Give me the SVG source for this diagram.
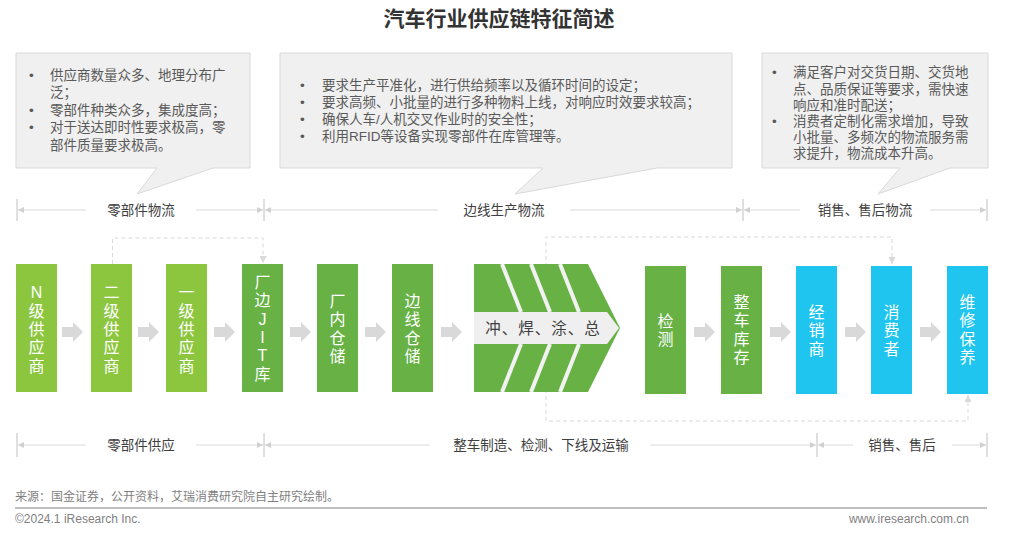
<svg xmlns="http://www.w3.org/2000/svg" width="1016" height="534" viewBox="0 0 1016 534">
<style>
.t{font-family:"Liberation Sans","Noto Sans CJK SC",sans-serif;}
.title{font-size:21px;font-weight:bold;fill:#333333;text-anchor:middle;dominant-baseline:central;}
.co{fill:#f0f0f0;stroke:#d9d9d9;stroke-width:1;}
.ct{font-size:13.5px;fill:#595959;dominant-baseline:central;}
.lg{fill:#8cc63f;}
.dg{fill:#67b145;}
.bl{fill:#1fc5ef;}
.nt{font-size:16px;fill:#ffffff;text-anchor:middle;dominant-baseline:central;}
.ga{fill:#d9d9d9;}
.dash{fill:none;stroke:#d9d9d9;stroke-width:1;stroke-dasharray:4 3;}
.br{stroke:#dcdcdc;stroke-width:1.2;fill:none;}
.tick{stroke:#c0c0c0;stroke-width:1;}
.bt{font-size:13.5px;fill:#404040;text-anchor:middle;dominant-baseline:central;}
.foot{font-size:12px;fill:#7f7f7f;dominant-baseline:central;}
.stripe{stroke:#f2f2f2;stroke-width:4;}
</style>
<defs>
<marker id="ah" viewBox="0 0 10 10" refX="10" refY="5" markerWidth="8" markerHeight="6" markerUnits="userSpaceOnUse" orient="auto-start-reverse">
<path d="M0,0 L10,5 L0,10 Z" fill="#d0d0d0"/>
</marker>
<marker id="dh" viewBox="0 0 10 10" refX="10" refY="5" markerWidth="7" markerHeight="7" markerUnits="userSpaceOnUse" orient="auto-start-reverse">
<path d="M0,0 L10,5 L0,10 Z" fill="#d9d9d9"/>
</marker>
</defs>

<text class="t title" x="499" y="18">汽车行业供应链特征简述</text>

<g id="callout-parts">
<path class="co" d="M16,53 H250 V168 H213 L137,194 L157,168 H16 Z"/>
<text class="t ct" x="29" y="75">•</text>
<text class="t ct" x="50" y="75">供应商数量众多、地理分布广</text>
<text class="t ct" x="50" y="92.5">泛；</text>
<text class="t ct" x="29" y="110">•</text>
<text class="t ct" x="50" y="110">零部件种类众多，集成度高；</text>
<text class="t ct" x="29" y="127.5">•</text>
<text class="t ct" x="50" y="127.5">对于送达即时性要求极高，零</text>
<text class="t ct" x="50" y="145">部件质量要求极高。</text>
</g>

<g id="callout-line">
<path class="co" d="M280,53 H732 V168 H657 L515,194 L543,168 H280 Z"/>
<text class="t ct" x="300" y="85">•</text>
<text class="t ct" x="322" y="85">要求生产平准化，进行供给频率以及循环时间的设定；</text>
<text class="t ct" x="300" y="102">•</text>
<text class="t ct" x="322" y="102">要求高频、小批量的进行多种物料上线，对响应时效要求较高；</text>
<text class="t ct" x="300" y="119">•</text>
<text class="t ct" x="322" y="119">确保人车/人机交叉作业时的安全性；</text>
<text class="t ct" x="300" y="136">•</text>
<text class="t ct" x="322" y="136">利用RFID等设备实现零部件在库管理等。</text>
</g>

<g id="callout-sales">
<path class="co" d="M762,53 H988 V168 H950 L878,194 L900,168 H762 Z"/>
<text class="t ct" x="772" y="72">•</text>
<text class="t ct" x="793" y="72">满足客户对交货日期、交货地</text>
<text class="t ct" x="793" y="89">点、品质保证等要求，需快速</text>
<text class="t ct" x="793" y="105">响应和准时配送；</text>
<text class="t ct" x="772" y="121">•</text>
<text class="t ct" x="793" y="121">消费者定制化需求增加，导致</text>
<text class="t ct" x="793" y="137">小批量、多频次的物流服务需</text>
<text class="t ct" x="793" y="153">求提升，物流成本升高。</text>
</g>

<g id="connectors">
<!-- top brackets -->
<line class="tick" x1="17" y1="199" x2="17" y2="221"/>
<line class="tick" x1="264" y1="199" x2="264" y2="221"/>
<line class="tick" x1="743" y1="199" x2="743" y2="221"/>
<line class="tick" x1="987" y1="199" x2="987" y2="221"/>
<path class="br" d="M86,210 H18" marker-end="url(#ah)"/>
<path class="br" d="M196,210 H263" marker-end="url(#ah)"/>
<path class="br" d="M438,210 H265" marker-end="url(#ah)"/>
<path class="br" d="M570,210 H742" marker-end="url(#ah)"/>
<path class="br" d="M800,210 H744" marker-end="url(#ah)"/>
<path class="br" d="M930,210 H986" marker-end="url(#ah)"/>
<!-- bottom brackets -->
<line class="tick" x1="17" y1="433" x2="17" y2="457"/>
<line class="tick" x1="264" y1="433" x2="264" y2="457"/>
<line class="tick" x1="817" y1="433" x2="817" y2="457"/>
<line class="tick" x1="987" y1="433" x2="987" y2="457"/>
<path class="br" d="M86,445 H18" marker-end="url(#ah)"/>
<path class="br" d="M196,445 H263" marker-end="url(#ah)"/>
<path class="br" d="M430,445 H265" marker-end="url(#ah)"/>
<path class="br" d="M650,445 H816" marker-end="url(#ah)"/>
<path class="br" d="M853,445 H818" marker-end="url(#ah)"/>
<path class="br" d="M952,445 H986" marker-end="url(#ah)"/>
<!-- dashed links -->
<path class="dash" d="M112.5,264 V238 H263 V263" marker-end="url(#dh)"/>
<path class="dash" d="M892,264 V237 H546 V421 H968 V395" marker-start="url(#dh)" marker-end="url(#dh)"/>
<!-- block arrows -->
<path class="ga" d="M62,327 h11 v-5 l10,10 l-10,10 v-5 h-11 Z"/>
<path class="ga" d="M138,327 h11 v-5 l10,10 l-10,10 v-5 h-11 Z"/>
<path class="ga" d="M214,327 h11 v-5 l10,10 l-10,10 v-5 h-11 Z"/>
<path class="ga" d="M290,327 h11 v-5 l10,10 l-10,10 v-5 h-11 Z"/>
<path class="ga" d="M365,327 h11 v-5 l10,10 l-10,10 v-5 h-11 Z"/>
<path class="ga" d="M441,327 h11 v-5 l10,10 l-10,10 v-5 h-11 Z"/>
<path class="ga" d="M694,327 h11 v-5 l10,10 l-10,10 v-5 h-11 Z"/>
<path class="ga" d="M770,327 h11 v-5 l10,10 l-10,10 v-5 h-11 Z"/>
<path class="ga" d="M845,327 h11 v-5 l10,10 l-10,10 v-5 h-11 Z"/>
<path class="ga" d="M920,327 h11 v-5 l10,10 l-10,10 v-5 h-11 Z"/>
</g>

<g id="labels">
<text class="t bt" x="141" y="210">零部件物流</text>
<text class="t bt" x="504" y="210">边线生产物流</text>
<text class="t bt" x="865" y="210">销售、售后物流</text>
<text class="t bt" x="141" y="445">零部件供应</text>
<text class="t bt" x="541" y="445">整车制造、检测、下线及运输</text>
<text class="t bt" x="902" y="445">销售、售后</text>
</g>

<g id="n-supplier">
<rect class="lg" x="16" y="264" width="41" height="128"/>
<text class="t nt" x="36.5"><tspan x="36.5" y="292.4">N</tspan><tspan x="36.5" y="310.7">级</tspan><tspan x="36.5" y="329">供</tspan><tspan x="36.5" y="347.3">应</tspan><tspan x="36.5" y="365.6">商</tspan></text>
</g>
<g id="tier2-supplier">
<rect class="lg" x="91" y="264" width="41" height="128"/>
<text class="t nt" x="111.5"><tspan x="111.5" y="292.4">二</tspan><tspan x="111.5" y="310.7">级</tspan><tspan x="111.5" y="329">供</tspan><tspan x="111.5" y="347.3">应</tspan><tspan x="111.5" y="365.6">商</tspan></text>
</g>
<g id="tier1-supplier">
<rect class="lg" x="166" y="264" width="41" height="128"/>
<text class="t nt" x="186.5"><tspan x="186.5" y="292.4">一</tspan><tspan x="186.5" y="310.7">级</tspan><tspan x="186.5" y="329">供</tspan><tspan x="186.5" y="347.3">应</tspan><tspan x="186.5" y="365.6">商</tspan></text>
</g>
<g id="jit">
<rect class="dg" x="242" y="264" width="41" height="128"/>
<text class="t nt" x="262.5"><tspan x="262.5" y="282">厂</tspan><tspan x="262.5" y="300.3">边</tspan><tspan x="262.5" y="318.6">J</tspan><tspan x="262.5" y="336.9">I</tspan><tspan x="262.5" y="355.2">T</tspan><tspan x="262.5" y="373.5">库</tspan></text>
</g>
<g id="plant-warehouse">
<rect class="dg" x="317" y="264" width="41" height="128"/>
<text class="t nt" x="337.5"><tspan x="337.5" y="301">厂</tspan><tspan x="337.5" y="319.3">内</tspan><tspan x="337.5" y="337.6">仓</tspan><tspan x="337.5" y="355.9">储</tspan></text>
</g>
<g id="line-warehouse">
<rect class="dg" x="392" y="264" width="41" height="128"/>
<text class="t nt" x="412.5"><tspan x="412.5" y="301">边</tspan><tspan x="412.5" y="319.3">线</tspan><tspan x="412.5" y="337.6">仓</tspan><tspan x="412.5" y="355.9">储</tspan></text>
</g>
<g id="process">
<polygon class="dg" points="474,264 588,264 620,328 588,392 474,392"/>
<line class="stripe" x1="502" y1="264" x2="521" y2="312"/>
<line class="stripe" x1="531" y1="264" x2="550" y2="312"/>
<line class="stripe" x1="560" y1="264" x2="579" y2="312"/>
<line class="stripe" x1="502" y1="392" x2="521" y2="344"/>
<line class="stripe" x1="531" y1="392" x2="550" y2="344"/>
<line class="stripe" x1="560" y1="392" x2="579" y2="344"/>
<polygon fill="#efefef" points="474,312 607,312 619,328 607,344 474,344"/>
<text class="t" x="543" y="328" font-size="15.5" fill="#404040" text-anchor="middle" dominant-baseline="central" letter-spacing="1">冲、焊、涂、总</text>
</g>
<g id="inspection">
<rect class="dg" x="645" y="266" width="41" height="128"/>
<text class="t nt" x="665.5"><tspan x="665.5" y="321">检</tspan><tspan x="665.5" y="339">测</tspan></text>
</g>
<g id="vehicle-stock">
<rect class="dg" x="721" y="266" width="41" height="128"/>
<text class="t nt" x="741.5"><tspan x="741.5" y="302">整</tspan><tspan x="741.5" y="320.3">车</tspan><tspan x="741.5" y="338.6">库</tspan><tspan x="741.5" y="356.9">存</tspan></text>
</g>
<g id="dealer">
<rect class="bl" x="796" y="266" width="41" height="128"/>
<text class="t nt" x="816.5"><tspan x="816.5" y="312">经</tspan><tspan x="816.5" y="330.3">销</tspan><tspan x="816.5" y="348.6">商</tspan></text>
</g>
<g id="consumer">
<rect class="bl" x="871" y="266" width="41" height="128"/>
<text class="t nt" x="891.5"><tspan x="891.5" y="312">消</tspan><tspan x="891.5" y="330.3">费</tspan><tspan x="891.5" y="348.6">者</tspan></text>
</g>
<g id="maintenance">
<rect class="bl" x="947" y="266" width="41" height="128"/>
<text class="t nt" x="967.5"><tspan x="967.5" y="302">维</tspan><tspan x="967.5" y="320.3">修</tspan><tspan x="967.5" y="338.6">保</tspan><tspan x="967.5" y="356.9">养</tspan></text>
</g>

<g id="footer">
<text class="t foot" x="15" y="497">来源：国金证券，公开资料，艾瑞消费研究院自主研究绘制。</text>
<line x1="15" y1="508" x2="987" y2="508" stroke="#808080" stroke-width="1"/>
<text class="t foot" x="15" y="519">©2024.1 iResearch Inc.</text>
<text class="t foot" x="969" y="519" text-anchor="end">www.iresearch.com.cn</text>
</g>
</svg>
